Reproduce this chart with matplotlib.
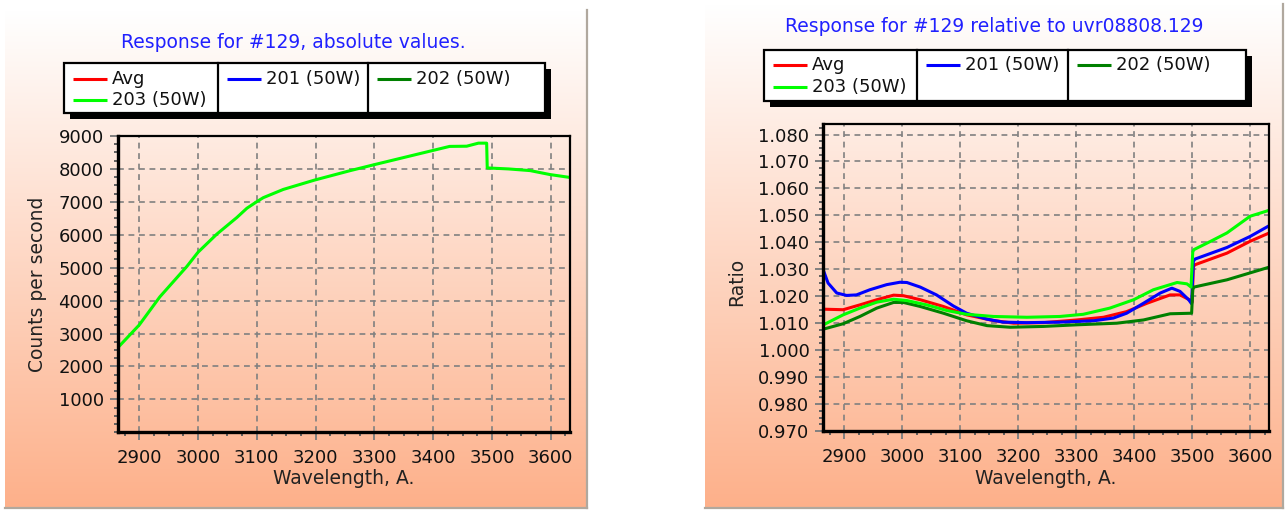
import numpy as np
import matplotlib
matplotlib.use("Agg")
import matplotlib.pyplot as plt
from matplotlib.patches import Rectangle
from matplotlib.lines import Line2D
from matplotlib.ticker import MultipleLocator, FormatStrFormatter

plt.rcParams['font.family'] = ['DejaVu Sans']

# ---------------- data ----------------
series_names = ["Avg", "201 (50W)", "202 (50W)", "203 (50W)"]
series_colors = ["#ff0000", "#0000ff", "#008000", "#00ff00"]

left_title = "Response for #129, absolute values."
right_title = "Response for #129 relative to uvr08808.129"
x_label = "Wavelength, A."
left_ylabel = "Counts per second"
right_ylabel = "Ratio"

x_ticks = [2900, 3000, 3100, 3200, 3300, 3400, 3500, 3600]
left_yticks = [1000, 2000, 3000, 4000, 5000, 6000, 7000, 8000, 9000]
right_yticks = [0.970, 0.980, 0.990, 1.000, 1.010, 1.020, 1.030, 1.040,
                1.050, 1.060, 1.070, 1.080]

# absolute values, lamp 203
abs_wl = [2864, 2900, 2935, 2981, 3000, 3032, 3066, 3083, 3100, 3111, 3145,
          3198, 3259, 3300, 3400, 3428, 3457, 3477, 3491, 3492, 3528, 3565,
          3599, 3633]
abs_203 = [2580, 3262, 4114, 5039, 5470, 6021, 6524, 6804, 7006, 7127, 7377,
           7660, 7949, 8130, 8563, 8684, 8690, 8783, 8783, 8030, 8000, 7949,
           7828, 7740]

# ratios
wl_avg = [2864, 2898, 2927, 2956, 2985, 3002, 3031, 3071, 3111, 3157, 3192,
          3243, 3301, 3347, 3387, 3422, 3462, 3479, 3497, 3500, 3502, 3505,
          3560, 3600, 3633]
ratio_avg = [1.0152, 1.0150, 1.0168, 1.0187, 1.0204, 1.0202, 1.0187, 1.0162,
             1.0131, 1.0110, 1.0100, 1.0102, 1.0112, 1.0122, 1.0143, 1.0174,
             1.0205, 1.0205, 1.0185, 1.0178, 1.0310, 1.0317, 1.0360, 1.0404,
             1.0435]

wl_201 = [2864, 2872, 2887, 2904, 2921, 2944, 2973, 2996, 3008, 3031, 3059,
          3088, 3111, 3146, 3174, 3215, 3272, 3330, 3364, 3387, 3416, 3445,
          3465, 3479, 3494, 3499, 3502, 3505, 3560, 3600, 3633]
ratio_201 = [1.0296, 1.0249, 1.0212, 1.0203, 1.0205, 1.0224, 1.0243, 1.0252,
             1.0251, 1.0234, 1.0205, 1.0164, 1.0137, 1.0115, 1.0104, 1.0102,
             1.0104, 1.0109, 1.0119, 1.0137, 1.0174, 1.0212, 1.0230, 1.0218,
             1.0187, 1.0172, 1.0330, 1.0338, 1.0381, 1.0422, 1.0462]

wl_202 = [2864, 2898, 2927, 2956, 2985, 3002, 3031, 3071, 3111, 3146, 3186,
          3243, 3301, 3370, 3416, 3462, 3499, 3501, 3503, 3560, 3633]
ratio_202 = [1.0078, 1.0098, 1.0125, 1.0156, 1.0177, 1.0177, 1.0162, 1.0137,
             1.0109, 1.0091, 1.0085, 1.0088, 1.0094, 1.0100, 1.0112, 1.0135,
             1.0137, 1.0225, 1.0234, 1.0261, 1.0308]

wl_203 = [2864, 2898, 2927, 2956, 2985, 3008, 3042, 3077, 3111, 3157, 3215,
          3272, 3312, 3358, 3399, 3433, 3474, 3491, 3498, 3501, 3503, 3532,
          3560, 3600, 3633]
ratio_203 = [1.0094, 1.0131, 1.0156, 1.0178, 1.0189, 1.0184, 1.0168, 1.0147,
             1.0133, 1.0125, 1.0122, 1.0125, 1.0133, 1.0156, 1.0187, 1.0224,
             1.0251, 1.0246, 1.0234, 1.0365, 1.0373, 1.0404, 1.0435, 1.0497,
             1.0519]

ratio_series = [(wl_avg, ratio_avg), (wl_201, ratio_201),
                (wl_202, ratio_202), (wl_203, ratio_203)]

# ---------------- figure ----------------
W, H = 1286, 512
fig = plt.figure(figsize=(W / 100, H / 100), dpi=100)
fig.patch.set_facecolor("white")

# background overlay in pixel coordinates
bg = fig.add_axes([0, 0, 1, 1], zorder=0)
bg.set_xlim(0, W)
bg.set_ylim(H, 0)
bg.axis("off")

top_c = np.array([255, 255, 255]) / 255.0
bot_c = np.array([253, 176, 138]) / 255.0
grad = np.linspace(0, 1, 256)[:, None, None]
grad_img = top_c * (1 - grad) + bot_c * grad
grad_img = np.repeat(grad_img, 2, axis=1)

panels = [(5, 10, 587, 508), (705, 4, 1283, 508)]
for (x0, y0, x1, y1) in panels:
    bg.imshow(grad_img, extent=(x0, x1, y1, y0), aspect="auto",
              interpolation="bilinear", zorder=0)
    bg.plot([x1, x1], [y0, y1], color="#b0a89e", lw=1.6, zorder=1)
    bg.plot([x0, x1], [y1, y1], color="#b0a89e", lw=1.6, zorder=1)

FS_T = 13.5
FS_TICK = 13
title_color = "#2020ff"

bg.text(293.5, 42, left_title, color=title_color, fontsize=FS_T,
        ha="center", va="center")
bg.text(994, 26, right_title, color=title_color, fontsize=FS_T,
        ha="center", va="center")


def draw_legend(box, cols, rows):
    x0, y0, x1, y1 = box
    bg.add_patch(Rectangle((x0 + 6, y0 + 6), x1 - x0, y1 - y0,
                           facecolor="black", edgecolor="none", zorder=3))
    bg.add_patch(Rectangle((x0, y0), x1 - x0, y1 - y0, facecolor="white",
                           edgecolor="black", lw=1.6, zorder=4))
    for cx in cols[1:]:
        bg.plot([cx, cx], [y0, y1], color="black", lw=1.6, zorder=5)
    for i, (name, col) in enumerate(zip(series_names, series_colors)):
        cx = cols[i % 3]
        ry = rows[i // 3]
        bg.plot([cx + 9, cx + 43], [ry, ry], color=col, lw=2.2, zorder=5,
                solid_capstyle="butt")
        bg.text(cx + 48, ry, name, fontsize=FS_TICK, ha="left", va="center",
                color="#111111", zorder=6)


draw_legend((64, 63, 545, 113), [64, 217.6, 368.3], [79, 100])
draw_legend((763.5, 49.5, 1245.6, 101), [763.5, 916.7, 1068], [65, 87.3])

bg.text(344, 478, x_label, fontsize=FS_T, ha="center", va="center",
        color="#222222")
bg.text(1046, 478, x_label, fontsize=FS_T, ha="center", va="center",
        color="#222222")
bg.text(38, 284, left_ylabel, fontsize=FS_T, ha="center", va="center",
        rotation=90, color="#222222")
bg.text(737, 282, right_ylabel, fontsize=FS_T, ha="center", va="center",
        rotation=90, color="#222222")


def style_axes(ax, xlim, ylim, yticks, yminor, yfmt):
    ax.set_facecolor("none")
    ax.set_xlim(*xlim)
    ax.set_ylim(*ylim)
    ax.set_xticks(x_ticks)
    ax.set_yticks(yticks)
    ax.xaxis.set_minor_locator(MultipleLocator(25))
    ax.yaxis.set_minor_locator(MultipleLocator(yminor))
    if yfmt:
        ax.yaxis.set_major_formatter(FormatStrFormatter(yfmt))
    ax.grid(True, which="major", color="#808080", linestyle=(0, (3.5, 2.8)),
            linewidth=1.2)
    ax.tick_params(which="major", direction="out", length=6, width=1.4,
                   color="#808080", labelsize=FS_TICK, labelcolor="#111111")
    ax.tick_params(axis="y", which="major", pad=4)
    ax.tick_params(axis="x", which="major", pad=6)
    ax.tick_params(which="minor", direction="out", length=3, width=1.4,
                   color="#606060")
    for side in ("left", "bottom"):
        ax.spines[side].set_linewidth(2.4)
    for side in ("top", "right"):
        ax.spines[side].set_linewidth(1.6)
    for s in ax.spines.values():
        s.set_color("black")
        s.set_zorder(5)
    ax.set_axisbelow(True)


# left axes
axL = fig.add_axes([117.7 / W, 1 - 432.3 / H, 452.3 / W, 296.3 / H], zorder=2)
style_axes(axL, (2863.3, 3632.8), (0, 9000), left_yticks, 250, None)
axL.plot(abs_wl, abs_203, color=series_colors[3], lw=2.2, zorder=3)

# right axes
axR = fig.add_axes([823.3 / W, 1 - 431 / H, 446 / W, 306.7 / H], zorder=2)
style_axes(axR, (2863.8, 3633), (0.970, 1.0838), right_yticks, 0.0025, "%.3f")
for (wl, vals), col in zip(ratio_series, series_colors):
    axR.plot(wl, vals, color=col, lw=2.2, zorder=3)

fig.savefig("out.png", dpi=100)
